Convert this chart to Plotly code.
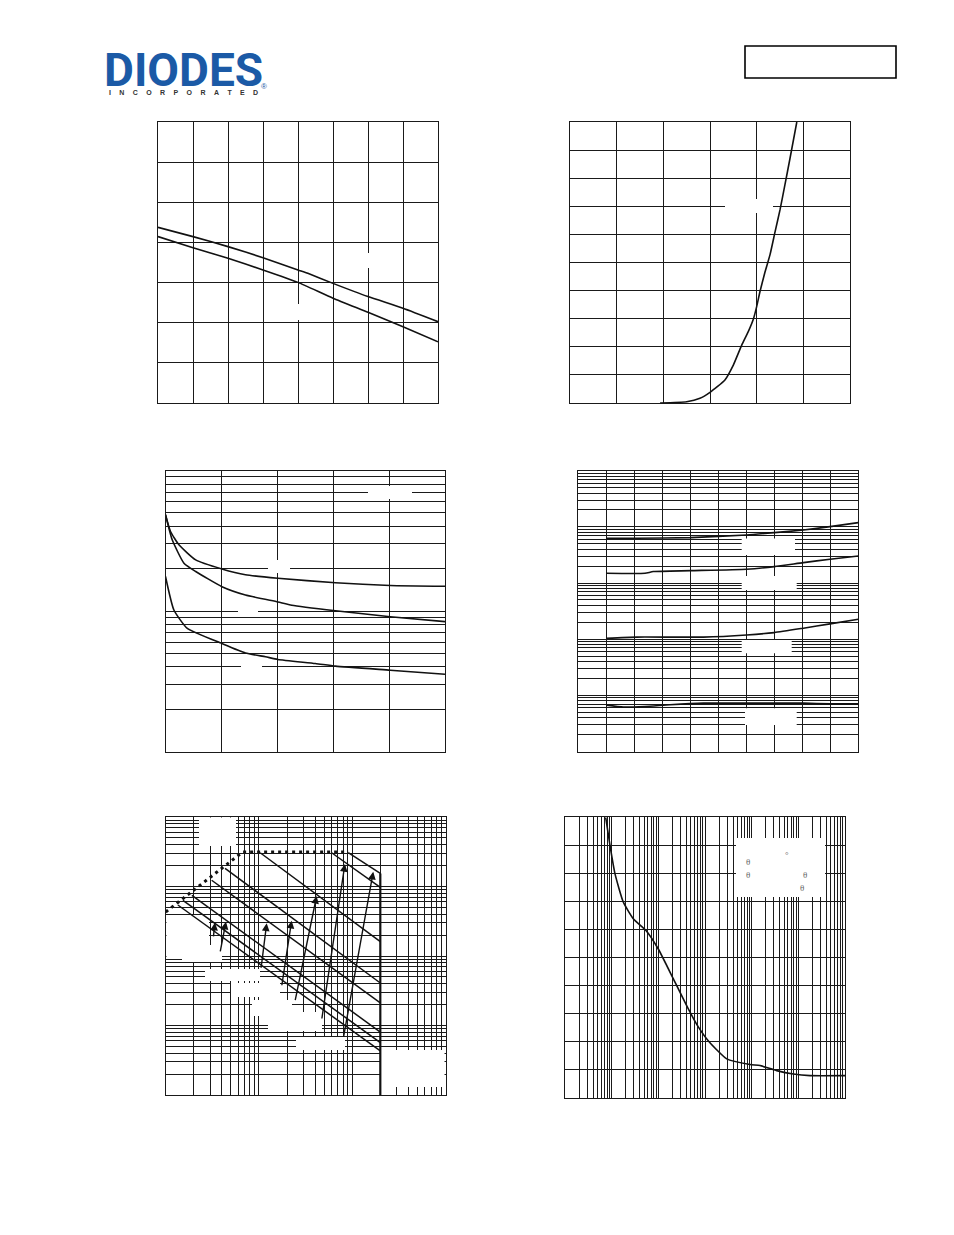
import numpy as np
import plotly.graph_objects as go

W, H = 954, 1235

# ---------------- data ----------------
# Chart 1 (two nearly straight falling lines)
c1_x_upper = [-50, -25, 0, 25, 50, 57, 75, 100, 125, 150]
c1_upper = [0.875, 0.829, 0.779, 0.724, 0.663, 0.646, 0.596, 0.530, 0.472, 0.405]
c1_x_lower = [-50, -25, 0, 25, 50, 75, 100, 125, 150]
c1_lower = [0.829, 0.774, 0.721, 0.663, 0.601, 0.522, 0.452, 0.380, 0.305]

# Chart 2 (exponential rise)
c2_x = [0.386, 0.5, 0.557, 0.6, 0.664, 0.7, 0.736, 0.764, 0.786, 0.8, 0.814, 0.836,
        0.857, 0.879, 0.9, 0.921, 0.943, 0.972]
c2_y = [0.0, 0.46, 1.67, 3.8, 8.2, 13.5, 20.6, 25.4, 29.9, 34.3, 39.6, 46.7,
        52.7, 61.0, 68.7, 77.6, 87.1, 100.0]

# Chart 3 (three falling curves, log y)
c3_x_a = [0, 0.9, 2.4, 5.4, 10.1, 14.3, 20.1, 30.4, 40.2, 50]
c3_a = [485, 368, 296, 231, 199, 181, 171, 159, 152, 150]
c3_x_b = [0, 1.2, 3.3, 5.4, 10.1, 14.3, 20.1, 22.6, 30.4, 40.2, 50]
c3_b = [485, 321, 219, 191, 149, 130, 116, 110, 100.5, 91, 84]
c3_x_c = [0, 1.5, 3.9, 10.1, 14.3, 17.9, 20.1, 26.8, 30.4, 40.2, 50]
c3_c = [176, 101.6, 75.2, 58.7, 50.3, 47.2, 45.2, 42.3, 40.5, 37.9, 35.5]

# Chart 4 (four nearly flat curves, log y)
c4_x1 = [10, 20.9, 40.1, 60.1, 70, 80.4, 89.9, 100]
c4_y1 = [627, 627, 643, 718, 789, 881, 1009, 1188]
c4_x2 = [10, 23.8, 26.8, 40.1, 60.1, 70, 80.4, 89.9, 100]
c4_y2 = [149, 149, 160, 166, 176, 196, 231, 265, 303]
c4_x3 = [10, 20.9, 44.7, 60.1, 70, 80.4, 89.9, 100]
c4_y3 = [10.4, 10.9, 10.9, 11.9, 13.1, 15.7, 18.7, 22.7]
c4_x4 = [10, 16.1, 23.8, 32.7, 44.7, 60.1, 80.4, 89.9, 100]
c4_y4 = [0.67, 0.617, 0.632, 0.678, 0.726, 0.726, 0.726, 0.706, 0.706]

# Chart 5 (safe operating area, log-log)
c5_limit_x = [0.1, 0.668, 9.06]
c5_limit_y = [0.43, 3.13, 3.13]
c5_start_x = [9.06, 6.01, 1.03, 0.433, 0.311, 0.191, 0.153, 0.135]
c5_start_y = [3.06, 3.06, 3.06, 1.82, 1.23, 0.746, 0.63, 0.542]
c5_end_x = [20, 20, 20, 20, 20, 20, 20, 20]
c5_end_y = [1.54, 0.968, 0.161, 0.0409, 0.0211, 0.00805, 0.00569, 0.0043]
c5_vmax = 20
c5_vmax_top = 1.54
c5_arrow_head_x = [0.337, 0.443, 1.21, 2.24, 4.15, 8.35, 16.8]
c5_arrow_head_y = [0.301, 0.312, 0.295, 0.322, 0.729, 2.11, 1.63]
c5_arrow_tail_x = [0.324, 0.382, 1.05, 1.75, 2.43, 4.7, 8.02]
c5_arrow_tail_y = [0.182, 0.111, 0.0644, 0.0361, 0.022, 0.012, 0.00655]

# Chart 6 (transient curve, log x)
c6_x = [7.45e-4, 9.2e-4, 1.18e-3, 1.77e-3, 2.9e-3, 5.44e-3, 9.98e-3, 0.0209,
        0.0439, 0.0718, 0.1236, 0.292, 0.92, 1.51, 3.43, 7.79, 17.8, 100]
c6_y = [500, 450, 399, 349, 319, 298, 265, 212, 158, 126, 99, 69, 59, 57, 48, 42, 39, 39]

# ---------------- layout geometry (pixels) ----------------
boxes = {  # left, right, top, bottom
    1: (158, 438, 122, 403),
    2: (570, 850, 122, 403),
    3: (165.5, 445, 470.5, 751.5),
    4: (578.3, 858.3, 470.7, 751.5),
    5: (165.7, 445.5, 817, 1095),
    6: (565, 845, 817.3, 1097.5),
}

GRID = '#1a1a1a'
LINE = '#111111'

def log_ticks(lo, hi):
    vals = []
    for k in range(lo, hi):
        for m in range(1, 10):
            vals.append(m * 10 ** k)
    vals.append(10 ** hi)
    return vals

def axis_common():
    return dict(showgrid=True, gridcolor=GRID, gridwidth=1, showline=True,
                linecolor=GRID, linewidth=1, mirror=True, ticks='',
                showticklabels=False, zeroline=False, fixedrange=True)

fig = go.Figure()

def add_line(n, x, y, width=1.6, dash=None, shape='spline', smoothing=0.5):
    sfx = '' if n == 1 else str(n)
    fig.add_trace(go.Scatter(x=x, y=y, mode='lines', xaxis='x' + sfx, yaxis='y' + sfx,
                             line=dict(color=LINE, width=width, dash=dash, shape=shape,
                                       smoothing=smoothing),
                             hoverinfo='skip', showlegend=False))

add_line(1, c1_x_upper, c1_upper)
add_line(1, c1_x_lower, c1_lower)
add_line(2, c2_x, c2_y)
add_line(3, c3_x_a, c3_a)
add_line(3, c3_x_b, c3_b)
add_line(3, c3_x_c, c3_c)
add_line(4, c4_x1, c4_y1)
add_line(4, c4_x2, c4_y2)
add_line(4, c4_x3, c4_y3)
add_line(4, c4_x4, c4_y4)
add_line(5, c5_limit_x, c5_limit_y, width=3, dash='3px,4px', shape='linear')
for sx, sy, ex, ey in zip(c5_start_x, c5_start_y, c5_end_x, c5_end_y):
    add_line(5, [sx, ex], [sy, ey], width=1.5, shape='linear')
add_line(5, [c5_vmax, c5_vmax], [c5_vmax_top, 0.001], width=2.2, shape='linear')
add_line(6, c6_x, c6_y)

layout = dict(width=W, height=H, margin=dict(l=0, r=0, t=0, b=0),
              paper_bgcolor='white', plot_bgcolor='white', showlegend=False)

ax_spec = {
    1: (dict(range=[-50, 150], dtick=25, tick0=-50), dict(range=[0, 1.4], dtick=0.2, tick0=0)),
    2: (dict(range=[0, 1.2], dtick=0.2, tick0=0), dict(range=[0, 100], dtick=10, tick0=0)),
    3: (dict(range=[0, 50], dtick=10, tick0=0),
        dict(type='log', range=[1, 3], tickmode='array', tickvals=log_ticks(1, 3))),
    4: (dict(range=[0, 100], dtick=10, tick0=0),
        dict(type='log', range=[-1, 4], tickmode='array', tickvals=log_ticks(-1, 4))),
    5: (dict(type='log', range=[-1, 2], tickmode='array', tickvals=log_ticks(-1, 2)),
        dict(type='log', range=[-3, 1], tickmode='array', tickvals=log_ticks(-3, 1))),
    6: (dict(type='log', range=[-4, 2], tickmode='array', tickvals=log_ticks(-4, 2)),
        dict(range=[0, 500], dtick=50, tick0=0)),
}

for n, (l, r, t, b) in boxes.items():
    sfx = '' if n == 1 else str(n)
    xa = axis_common(); xa.update(ax_spec[n][0])
    ya = axis_common(); ya.update(ax_spec[n][1])
    xa.update(domain=[l / W, r / W], anchor='y' + sfx)
    ya.update(domain=[1 - b / H, 1 - t / H], anchor='x' + sfx)
    layout['xaxis' + sfx] = xa
    layout['yaxis' + sfx] = ya

fig.update_layout(**layout)

def px_to_data(n, px, horizontal):
    l, r, t, b = boxes[n]
    spec = ax_spec[n][0 if horizontal else 1]
    r0, r1 = spec['range']
    frac = (px - l) / (r - l) if horizontal else (b - px) / (b - t)
    v = r0 + frac * (r1 - r0)
    return 10 ** v if spec.get('type') == 'log' else v

# white label masks (pixel rectangles: left, right, top, bottom)
masks = {
    1: [(283, 313, 304, 320), (355, 382, 253, 268)],
    2: [(725, 773, 199, 213)],
    3: [(368, 412, 486, 499), (268, 290, 560, 573), (238, 258, 606, 616), (241, 262, 660, 674)],
    4: [(741.7, 795, 538.5, 555), (741.7, 796.7, 576, 590), (741.7, 791.7, 640, 653.3),
        (745, 796.7, 708.3, 725)],
    5: [(199, 236, 817.5, 846), (166.5, 209, 915, 957), (182, 222, 945, 962),
        (205, 260, 969, 981), (231, 280, 983, 997), (252, 292, 1000, 1016),
        (268, 322, 1012, 1031), (296, 345, 1037, 1050), (381, 444.5, 1050, 1087)],
    6: [(736, 825, 838, 897)],
}
for n, rects in masks.items():
    sfx = '' if n == 1 else str(n)
    for (x0, x1, y0, y1) in rects:
        fig.add_shape(type='rect', xref='x' + sfx, yref='y' + sfx,
                      x0=px_to_data(n, x0, True), x1=px_to_data(n, x1, True),
                      y0=px_to_data(n, y1, False), y1=px_to_data(n, y0, False),
                      fillcolor='white', line=dict(width=0), layer='between')

# arrows on chart 5
for hx, hy, tx, ty in zip(c5_arrow_head_x, c5_arrow_head_y, c5_arrow_tail_x, c5_arrow_tail_y):
    fig.add_annotation(x=np.log10(hx), y=np.log10(hy), ax=np.log10(tx), ay=np.log10(ty),
                       xref='x5', yref='y5', axref='x5', ayref='y5', text='',
                       showarrow=True, arrowhead=2, arrowsize=1.1, arrowwidth=1.4,
                       arrowcolor=LINE)

def px_ann(x, y, text, size, color, family, **kw):
    fig.add_annotation(x=x / W, y=1 - y / H, xref='paper', yref='paper', text=text,
                       showarrow=False, font=dict(size=size, color=color, family=family),
                       xanchor='center', yanchor='middle', borderpad=0, **kw)

# theta symbols in chart 6 legend box
for (x, y, s) in [(748, 862, 'θ'), (748, 875, 'θ'), (805, 875, 'θ'), (802, 888, 'θ'), (787, 855, '°')]:
    px_ann(x, y, s, 9, '#666666', 'Liberation Serif')

# logo: one text block, big "DIODES" line over the small spaced "INCORPORATED" line
sep = '\u2003\u2009'
logo_text = ('<span style="font-size:46px;font-family:Roboto;color:#1b5aa6"><b>DIODES</b></span>'
             '<br><span style="color:#333333"><b>' + sep.join('INCORPORATED') + '</b></span>')
fig.add_annotation(x=183.5 / W, y=1 - 42 / H, xref='paper', yref='paper', text=logo_text,
                   showarrow=False, font=dict(size=7, color='#333333', family='Liberation Sans'),
                   xanchor='center', yanchor='top', borderpad=0, align='center')
fig.add_shape(type='line', xref='paper', yref='paper', x0=106 / W, x1=186 / W,
              y0=1 - 71 / H, y1=1 - 71 / H, line=dict(color='white', width=1.6))
px_ann(264, 87, '®', 8, '#1b5aa6', 'Liberation Sans')

# header box
fig.add_shape(type='rect', xref='paper', yref='paper', x0=745 / W, x1=896 / W,
              y0=1 - 78 / H, y1=1 - 46 / H, line=dict(color='black', width=1.6))

fig.write_html('out.html', config={'displayModeBar': False},
               post_script="document.body.style.margin='0px';")
